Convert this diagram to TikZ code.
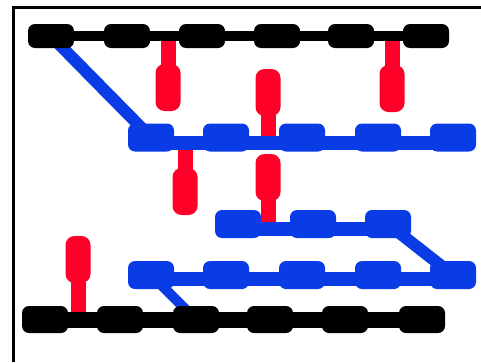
\documentclass[tikz,border=0pt]{standalone}
\usetikzlibrary{calc,backgrounds}
\definecolor{chainblue}{RGB}{10,60,230}
\definecolor{pinred}{RGB}{255,0,40}
\begin{document}
\begin{tikzpicture}[x=1pt,y=-1pt,
  blob/.style={rectangle,rounded corners=7pt,inner sep=0pt,minimum width=46pt,draw=none},
  kblob/.style={blob,fill=black,minimum height=24pt},
  kblobb/.style={blob,fill=black,minimum height=27pt},
  ublob/.style={blob,fill=chainblue,minimum height=28pt},
  pin/.style={rectangle,rounded corners=9pt,inner sep=0pt,fill=pinred,minimum width=25pt,minimum height=47pt},
  stem/.style={pinred,line width=15pt},
  link/.style={chainblue,line width=12pt},
  klinethin/.style={black,line width=10pt},
  klinethick/.style={black,line width=16pt},
  uline/.style={chainblue,line width=14pt},
]
\useasboundingbox (0,0) rectangle (481,362);
% frame
\draw[black,line width=3pt] (13.5,362) -- (13.5,7.5) -- (481,7.5);

% top black chain
\foreach \i/\x in {1/51,2/127,3/202,4/277,5/351,6/426}
  \node[kblob] (t\i) at (\x,36) {};
% blue chain 1
\foreach \i/\x in {1/151,2/226,3/302,4/378,5/453}
  \node[ublob] (u\i) at (\x,137.5) {};
% blue chain 2
\foreach \i/\x in {1/238,2/313,3/388}
  \node[ublob] (v\i) at (\x,224) {};
% blue chain 3
\foreach \i/\x in {1/151,2/226,3/302,4/378,5/453}
  \node[ublob] (w\i) at (\x,275) {};
% bottom black chain
\foreach \i/\x in {1/45,2/120,3/196,4/270,5/345,6/422}
  \node[kblobb] (k\i) at (\x,319.5) {};

% red pins
\node[pin] (pA) at (168,87.5) {};
\node[pin] (pB) at (392,88.5) {};
\node[pin] (pC) at (268,92.5) {};
\node[pin] (pD) at (185,191.5) {};
\node[pin] (pE) at (268,177.5) {};
\node[pin] (pF) at (78,259.5) {};

\begin{scope}[on background layer]
  % stems
  \draw[stem] (pA.center) -- (pA |- t1);
  \draw[stem] (pB.center) -- (pB |- t1);
  \draw[stem] (pC.center) -- (pC |- u1);
  \draw[stem] (pD.center) -- (pD |- u1);
  \draw[stem] (pE.center) -- (pE |- v1);
  \draw[stem] (pF.center) -- (pF |- k1);
  % diagonal links
  \draw[link] (t1.center) -- (u1.center);
  \draw[link] (v3.center) -- (w5.center);
  \draw[link,line width=10pt] (w1.center) -- (k3.center);
  % chain lines
  \draw[klinethin] (t1.center) -- (t6.center);
  \draw[uline] ([yshift=-5pt]u1.center) -- ([yshift=-5pt]u5.center);
  \draw[uline] ([yshift=-5pt]v1.center) -- ([yshift=-5pt]v3.center);
  \draw[uline] ([yshift=-4pt]w1.center) -- ([yshift=-4pt]w5.center);
  \draw[klinethick] (k1.center) -- (k6.center);
\end{scope}
\end{tikzpicture}
\end{document}
